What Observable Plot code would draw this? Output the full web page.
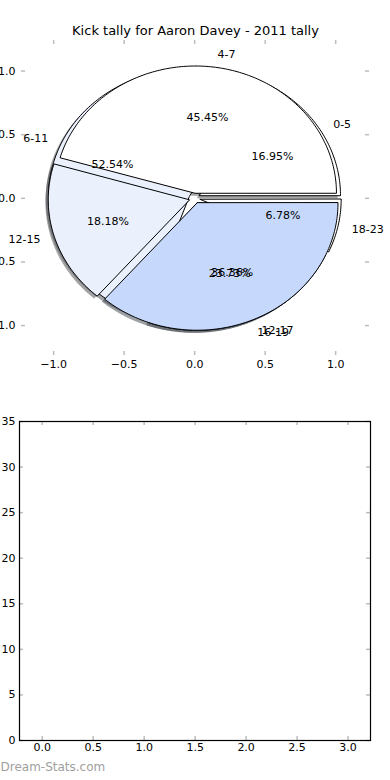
<!DOCTYPE html>
<html>
<head>
<meta charset="utf-8">
<script src="https://cdn.jsdelivr.net/npm/d3@7"></script>
<script src="https://cdn.jsdelivr.net/npm/@observablehq/plot@0.6"></script>
<style>
  html, body { margin: 0; padding: 0; background: white; overflow: hidden; }
  #chart svg { display: block; }
</style>
</head>
<body>
<div id="chart"></div>
<script>
// ---- data ----
const title = "Kick tally for Aaron Davey - 2011 tally";
const labelsB = ["0-5", "6-11", "16-19", "18-23"];
const valuesB = [10, 31, 14, 4];
const labelsA = ["4-7", "12-15", "12-17"];
const valuesA = [5, 2, 4];
const sliceColors = ["#ffffff", "#eaf1fd", "#c6d9fd"];
const pieTicks = [-1, -0.5, 0, 0.5, 1];
const barXTicks = [0, 0.5, 1, 1.5, 2, 2.5, 3];
const barYTicks = [0, 5, 10, 15, 20, 25, 30, 35];
const watermark = "Dream-Stats.com";

const explode = 0.04;
const shadowOffset = 0.02;
const font = "DejaVu Sans";
const tickColor = "#bdbdbd";

function wedges(values, labels) {
  const total = d3.sum(values);
  let a = 0;
  return values.map((v, i) => {
    const t1 = a, t2 = a + v / total * 360;
    a = t2;
    const tm = (t1 + t2) / 2 * Math.PI / 180;
    return {
      label: labels[i],
      pct: (v / total * 100).toFixed(2) + "%",
      t1, t2, tm,
      cx: explode * Math.cos(tm),
      cy: explode * Math.sin(tm),
      color: sliceColors[i % sliceColors.length]
    };
  });
}
function outline(w, ox, oy) {
  const pts = [[w.cx + ox, w.cy + oy]];
  const n = Math.max(2, Math.ceil(w.t2 - w.t1));
  for (let k = 0; k <= n; k++) {
    const t = (w.t1 + (w.t2 - w.t1) * k / n) * Math.PI / 180;
    pts.push([w.cx + ox + Math.cos(t), w.cy + oy + Math.sin(t)]);
  }
  return pts;
}

const pieB = wedges(valuesB, labelsB);
const pieA = wedges(valuesA, labelsA);
const all = [...pieB, ...pieA];

const shadowMarks = all.map(w => {
  const c = d3.rgb(w.color);
  const sc = d3.rgb(c.r * 0.3, c.g * 0.3, c.b * 0.3).formatHex();
  return Plot.line(outline(w, -shadowOffset, -shadowOffset), {
    x: d => d[0], y: d => d[1], curve: "linear-closed",
    fill: sc, fillOpacity: 0.5, stroke: "none"
  });
});
const wedgeMarks = all.map(w => Plot.line(outline(w, 0, 0), {
  x: d => d[0], y: d => d[1], curve: "linear-closed",
  fill: w.color, stroke: "black", strokeWidth: 1
}));

const labelData = all.map(w => ({
  text: w.label,
  x: w.cx + 1.1 * Math.cos(w.tm),
  y: w.cy + 1.1 * Math.sin(w.tm)
}));
const pctData = all.map(w => ({
  text: w.pct,
  x: w.cx + 0.6 * Math.cos(w.tm),
  y: w.cy + 0.6 * Math.sin(w.tm)
}));

const W = 390, H1 = 390, H2 = 390;
const fmt = d => d3.format(".1f")(d).replace("-", "\u2212");

const top1 = Plot.plot({
  width: W, height: H1,
  marginTop: 40, marginBottom: 35, marginLeft: 21, marginRight: 21,
  style: { fontFamily: font, fontSize: "11px", background: "white", color: "black", overflow: "visible" },
  x: { domain: [-1.228, 1.24], ticks: pieTicks, tickFormat: fmt, tickSize: 0, tickPadding: 5, label: null },
  y: { domain: [-1.235, 1.24], ticks: pieTicks, tickFormat: fmt, tickSize: 0, tickPadding: 6, label: null },
  marks: [
    Plot.tickX(pieTicks, { x: d => d, stroke: tickColor, strokeWidth: 1.5, insetBottom: 311 }),
    Plot.tickX(pieTicks, { x: d => d, stroke: tickColor, strokeWidth: 1.5, insetTop: 311 }),
    Plot.tickY(pieTicks, { y: d => d, stroke: tickColor, strokeWidth: 1.5, insetRight: 344 }),
    Plot.tickY(pieTicks, { y: d => d, stroke: tickColor, strokeWidth: 1.5, insetLeft: 344 }),
    ...shadowMarks,
    ...wedgeMarks,
    Plot.text(labelData.filter(d => d.x > 0), { x: "x", y: "y", text: "text", textAnchor: "start", fontSize: 11, fill: "black" }),
    Plot.text(labelData.filter(d => d.x <= 0), { x: "x", y: "y", text: "text", textAnchor: "end", fontSize: 11, fill: "black" }),
    Plot.text(pctData, { x: "x", y: "y", text: "text", fontSize: 11, fill: "black" }),
    Plot.text([title], { frameAnchor: "top", dy: -10, lineAnchor: "middle", fontSize: 13, fill: "black" })
  ]
});

const bottom = Plot.plot({
  width: W, height: H2,
  marginTop: 31, marginBottom: 40, marginLeft: 19, marginRight: 20,
  style: { fontFamily: font, fontSize: "11px", background: "white", color: "black", overflow: "visible" },
  x: { domain: [-0.223, 3.22], ticks: barXTicks, tickFormat: fmt, tickSize: 0, tickPadding: 3, label: null },
  y: { domain: [0, 35], ticks: barYTicks, tickFormat: d3.format("d"), tickSize: 0, tickPadding: 4, label: null },
  marks: [
    Plot.tickX(barXTicks, { x: d => d, stroke: tickColor, strokeWidth: 1.5, insetBottom: 315 }),
    Plot.tickX(barXTicks, { x: d => d, stroke: tickColor, strokeWidth: 1.5, insetTop: 315 }),
    Plot.tickY(barYTicks, { y: d => d, stroke: tickColor, strokeWidth: 1.5, insetRight: 347 }),
    Plot.tickY(barYTicks, { y: d => d, stroke: tickColor, strokeWidth: 1.5, insetLeft: 347 }),
    Plot.frame({ stroke: "black", strokeWidth: 1.2 }),
    Plot.text([watermark], { frameAnchor: "bottom-left", dx: -19, dy: 30, textAnchor: "start", fontSize: 12, fill: "#a0a0a0" })
  ]
});

document.getElementById("chart").append(top1, bottom);
</script>
</body>
</html>
